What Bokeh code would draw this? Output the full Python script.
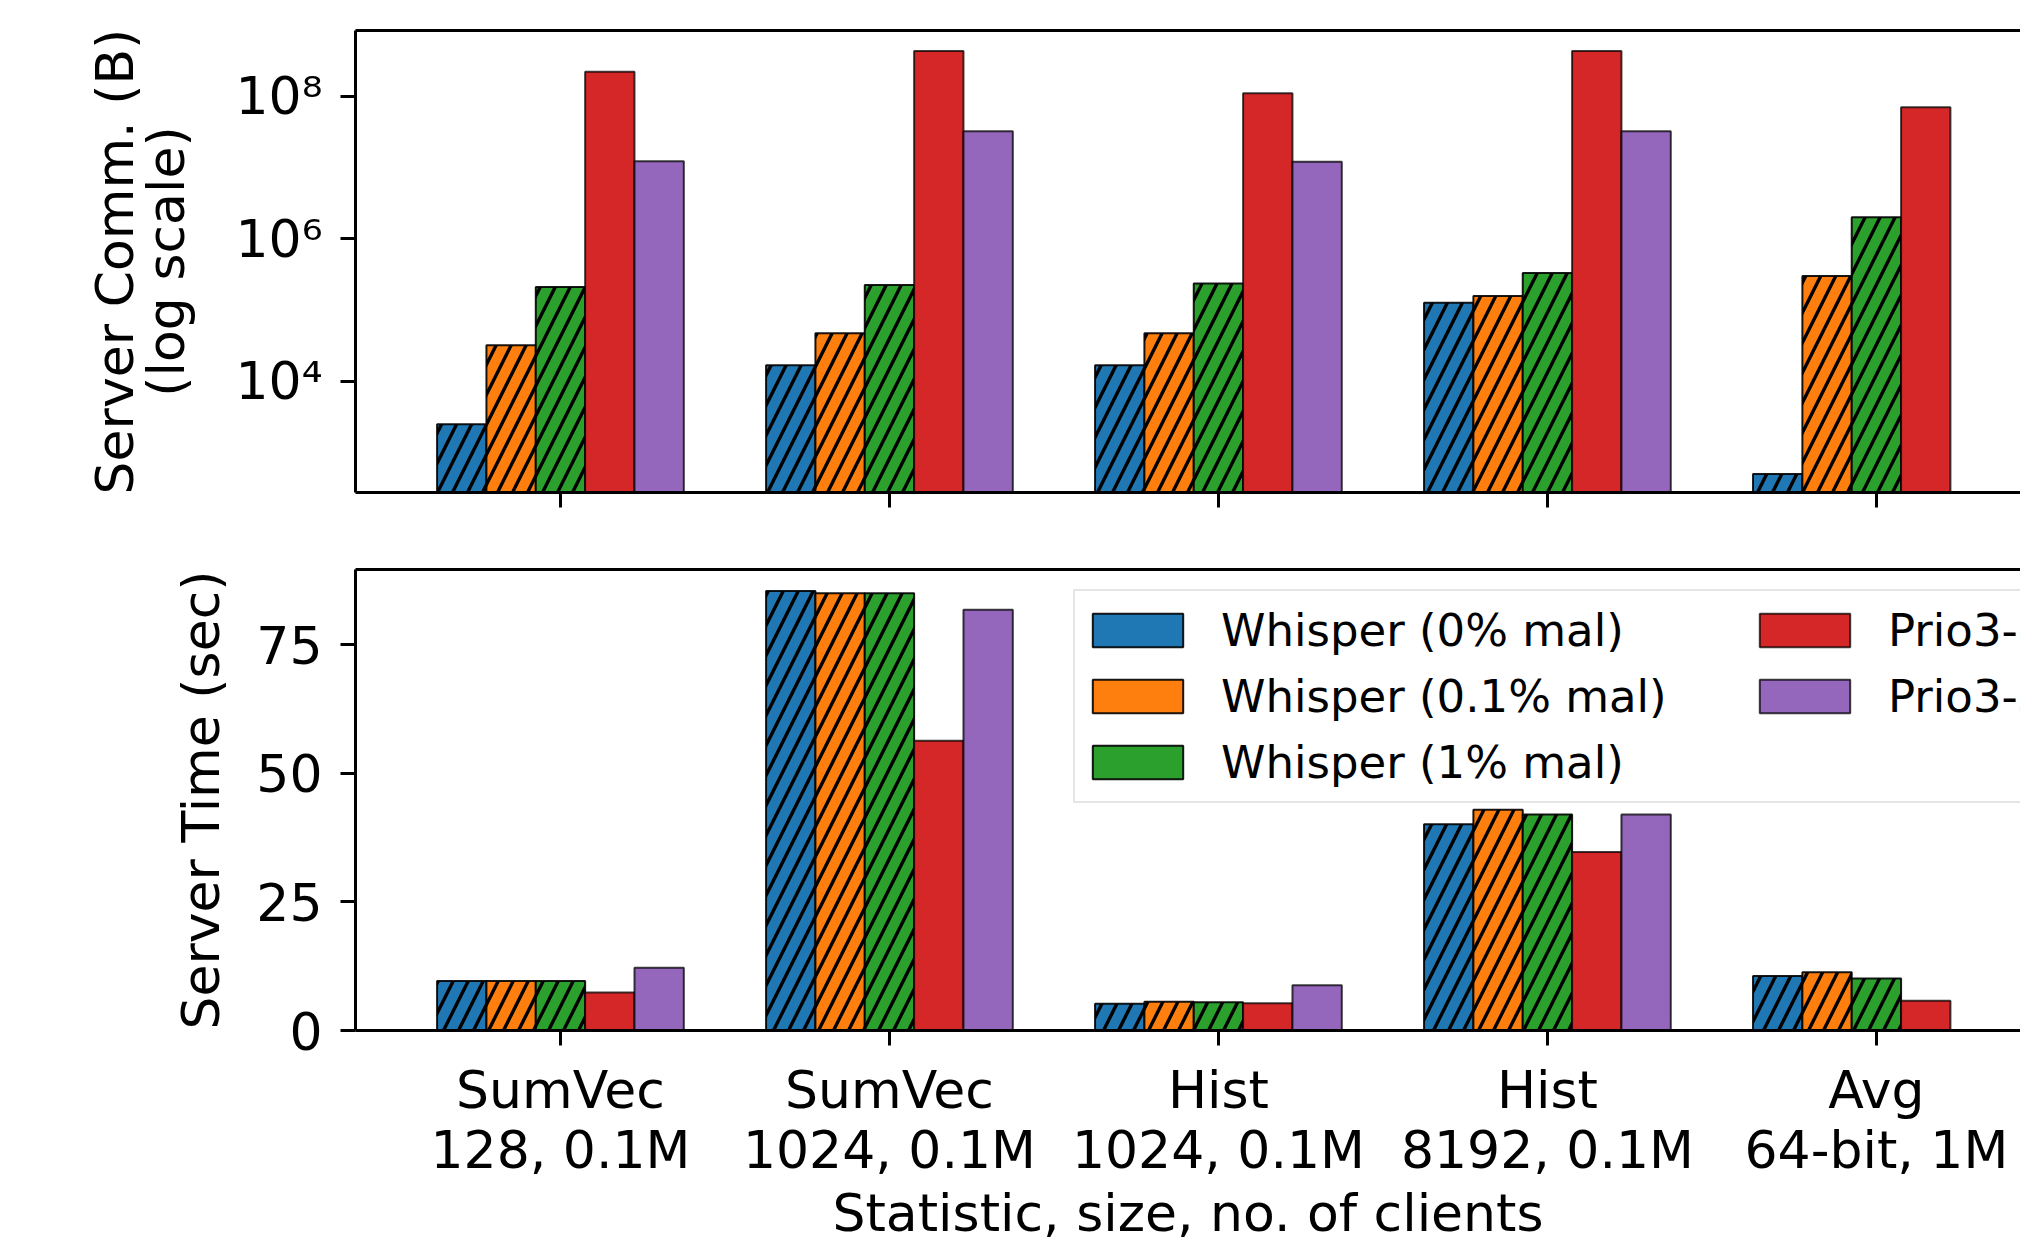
import math
from bokeh.plotting import figure
from bokeh.models import (Range1d, FixedTicker, LinearAxis, Legend, LegendItem,
                          CustomJSTickFormatter, ColumnDataSource,
                          CustomLabelingPolicy)
from bokeh.layouts import column
from bokeh.embed import file_html
from bokeh.resources import INLINE

NaN = float("nan")

# ---------------- data ----------------
categories = ["SumVec\n128, 0.1M", "SumVec\n1024, 0.1M", "Hist\n1024, 0.1M",
              "Hist\n8192, 0.1M", "Avg\n64-bit, 1M"]
series_names = ["Whisper (0% mal)", "Whisper (0.1% mal)", "Whisper (1% mal)",
                "Prio3-c", "Prio3-s"]

# Server communication (bytes, log scale)
comm_whisper_0 = [2500, 16800, 16800, 126000, 500]
comm_whisper_01 = [32000, 47000, 47000, 157000, 300000]
comm_whisper_1 = [210000, 224000, 235000, 330000, 2.0e6]
comm_prio3_c = [2.2e8, 4.3e8, 1.1e8, 4.3e8, 7.0e7]
comm_prio3_s = [1.22e7, 3.2e7, 1.2e7, 3.2e7, NaN]

# Server time (sec)
time_whisper_0 = [9.6, 85.4, 5.2, 40.1, 10.6]
time_whisper_01 = [9.6, 85.0, 5.6, 42.9, 11.3]
time_whisper_1 = [9.6, 85.0, 5.5, 42.0, 10.1]
time_prio3_c = [7.4, 56.3, 5.3, 34.7, 5.8]
time_prio3_s = [12.2, 81.8, 8.8, 42.0, NaN]

colors = ["#1f77b4", "#ff7f0e", "#2ca02c", "#d62728", "#9467bd"]
hatched = [True, True, True, False, False]
offsets = [-0.3, -0.15, 0.0, 0.15, 0.3]
BAR_W = 0.15

FONT = "DejaVu Sans"
X_RANGE = (-0.623, 4.438)
W = 2020

HIDE_ALL = CustomLabelingPolicy(code="""
    for (const i of Array.from(indices)) { indices.unset(i) }
    return indices
""")


def style_axes(p):
    p.outline_line_color = None
    p.background_fill_color = "white"
    p.border_fill_color = "white"
    p.xgrid.visible = False
    p.ygrid.visible = False
    for ax in p.axis:
        ax.axis_line_width = 3
        ax.axis_line_color = "black"
        ax.major_tick_line_width = 3
        ax.major_tick_line_color = "black"
        ax.major_tick_out = 15
        ax.major_tick_in = 0
        ax.minor_tick_line_color = None
        ax.major_label_text_font = FONT
        ax.major_label_text_font_size = "52px"
        ax.major_label_text_color = "black"
        ax.axis_label_text_font = FONT
        ax.axis_label_text_font_size = "52px"
        ax.axis_label_text_font_style = "normal"
        ax.axis_label_text_color = "black"
    # top spine (plain line, no ticks)
    top = LinearAxis(ticker=FixedTicker(ticks=[]), major_label_text_font_size="0px",
                     axis_line_width=3, axis_line_color="black",
                     major_tick_line_color=None, minor_tick_line_color=None,
                     major_label_standoff=0, major_label_policy=HIDE_ALL)
    p.add_layout(top, "above")


def series_source(vals, i):
    xs = [j + offsets[i] for j, v in enumerate(vals) if not math.isnan(v)]
    ys = [v for v in vals if not math.isnan(v)]
    return ColumnDataSource(dict(x=xs, top=ys))


def add_bars(p, series, bottom):
    for i, vals in enumerate(series):
        src = series_source(vals, i)
        kw = {}
        if hatched[i]:
            kw = dict(hatch_pattern="/", hatch_color="black", hatch_weight=3.4,
                      hatch_scale=30)
        p.vbar(x="x", top="top", bottom=bottom, width=BAR_W, source=src,
               fill_color=colors[i], line_color="black",
               line_width=2, line_alpha=0.9 if hatched[i] else 0.75, **kw)


# ---------------- top: communication ----------------
p1 = figure(width=W, height=520, y_axis_type="log",
            x_range=Range1d(*X_RANGE), y_range=Range1d(10 ** 2.44, 10 ** 8.92),
            output_backend="svg", toolbar_location=None,
            min_border_left=355, min_border_right=0, min_border_top=30,
            min_border_bottom=28)
comm_series = [comm_whisper_0, comm_whisper_01, comm_whisper_1,
               comm_prio3_c, comm_prio3_s]
add_bars(p1, comm_series, bottom=1)
style_axes(p1)
xb1 = p1.below[0]
xb1.ticker = FixedTicker(ticks=list(range(len(categories))))
xb1.major_label_text_font_size = "0px"
xb1.major_label_standoff = 0
xb1.major_label_policy = HIDE_ALL
yl1 = p1.left[0]
yl1.ticker = FixedTicker(ticks=[1e4, 1e6, 1e8])
yl1.formatter = CustomJSTickFormatter(code="""
    const sup = {'0':'\u2070','1':'\u00b9','2':'\u00b2','3':'\u00b3','4':'\u2074',
                 '5':'\u2075','6':'\u2076','7':'\u2077','8':'\u2078','9':'\u2079'};
    const e = Math.round(Math.log10(tick));
    return '10' + String(e).split('').map(c => sup[c]).join('');
""")
yl1.major_label_standoff = 18
yl1.axis_label = "Server Comm. (B)\n(log scale)"
yl1.axis_label_text_line_height = 0.85
yl1.axis_label_standoff = 36

# ---------------- bottom: time ----------------
p2 = figure(width=W, height=728,
            x_range=Range1d(*X_RANGE), y_range=Range1d(0, 89.6),
            output_backend="svg", toolbar_location=None,
            min_border_left=355, min_border_right=0, min_border_top=49,
            min_border_bottom=218)
time_series = [time_whisper_0, time_whisper_01, time_whisper_1,
               time_prio3_c, time_prio3_s]
add_bars(p2, time_series, bottom=0)
style_axes(p2)
xb2 = p2.below[0]
xb2.ticker = FixedTicker(ticks=list(range(len(categories))))
xb2.major_label_overrides = {i: c for i, c in enumerate(categories)}
xb2.major_label_text_line_height = 1.01
xb2.major_label_standoff = 14
xb2.axis_label = "Statistic, size, no. of clients"
xb2.axis_label_standoff = 0
yl2 = p2.left[0]
yl2.ticker = FixedTicker(ticks=[0, 25, 50, 75])
yl2.major_label_standoff = 18
yl2.axis_label = "Server Time (sec)"
yl2.axis_label_standoff = 22

# legend with plain (unhatched) patches: hidden twins of the bar renderers
legend_items = []
for i, name in enumerate(series_names):
    twin = p2.vbar(x="x", top="top", bottom=0, width=BAR_W,
                   source=series_source(time_series[i], i),
                   fill_color=colors[i], line_color="black", line_width=2,
                   line_alpha=0.9 if hatched[i] else 0.75, visible=False)
    legend_items.append(LegendItem(label=name, renderers=[twin]))

legend = Legend(items=legend_items, ncols=2, location=(718, 227),
                label_text_font=FONT, label_text_font_size="45px",
                label_text_color="black",
                glyph_width=113, glyph_height=42, label_standoff=27,
                label_width=527, label_height=66, spacing=0, padding=6,
                margin=0, border_line_color="#cccccc", border_line_width=2.5,
                background_fill_color="white", background_fill_alpha=0.85,
                inactive_fill_alpha=0.0, click_policy="none")
p2.add_layout(legend)

layout = column(p1, p2)
open("out.html", "w").write(file_html(layout, INLINE))
